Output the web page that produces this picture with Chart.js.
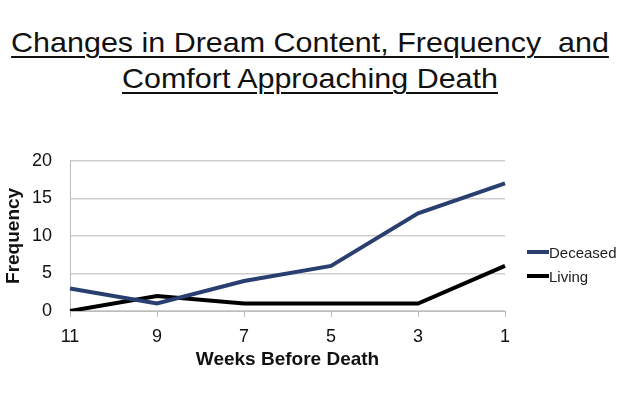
<!DOCTYPE html>
<html>
<head>
<meta charset="utf-8">
<script src="https://cdn.jsdelivr.net/npm/chart.js@4"></script>
<style>
  html, body { margin: 0; padding: 0; background: #fff; }
  body { width: 620px; height: 395px; position: relative; overflow: hidden; font-family: "Liberation Sans", Arial, sans-serif; }
  #title { position: absolute; left: 0; top: 25px; width: 620px; text-align: center; font-size: 28px; line-height: 36px; color: #111; white-space: pre; }
  #title div { transform: scaleX(1.088); }
  #title span { text-decoration: underline; text-decoration-thickness: 2px; text-underline-offset: 4px; }
  #wrap { position: absolute; left: 0; top: 132px; width: 620px; height: 263px; }
  #legend { position: absolute; left: 527px; top: 240px; font-size: 15px; color: #222; }
  .item { height: 24px; display: flex; align-items: center; }
  .swatch { width: 22px; height: 4px; margin-right: 0; }
</style>
</head>
<body>
<div id="title"><div><span>Changes in Dream Content, Frequency  and</span></div><div><span>Comfort Approaching Death</span></div></div>
<div id="wrap"><canvas id="chart"></canvas></div>
<div id="legend"></div>
<script>
// data
const weeks = ['11', '9', '7', '5', '3', '1'];
const deceased = [3, 1, 4, 6, 13, 17];
const living = [0, 2, 1, 1, 1, 6];
const seriesNames = ['Deceased', 'Living'];
const seriesColors = ['#283f6f', '#000000'];

// legend
let legend = document.getElementById('legend');
seriesNames.forEach((name, i) => {
    let item = document.createElement('div');
    item.className = 'item';
    item.innerHTML = `<div class="swatch" style="background:${seriesColors[i]}"></div><span>${name}</span>`;
    legend.appendChild(item);
});

new Chart(document.getElementById('chart').getContext('2d'), {
    type: 'line',
    data: {
        labels: weeks,
        datasets: [
            { label: seriesNames[0], data: deceased, borderColor: seriesColors[0], borderWidth: 4, pointRadius: 0, tension: 0 },
            { label: seriesNames[1], data: living, borderColor: seriesColors[1], borderWidth: 4, pointRadius: 0, tension: 0 }
        ]
    },
    options: {
        responsive: true,
        maintainAspectRatio: false,
        animation: false,
        layout: { padding: { top: 13, right: 115, left: 0, bottom: 0 } },
        plugins: { legend: { display: false }, tooltip: { enabled: false } },
        scales: {
            x: {
                grid: { drawOnChartArea: false, drawTicks: true, tickLength: 6, color: '#bdbdbd' },
                border: { color: '#bdbdbd' },
                ticks: { padding: 9, color: '#111', font: { family: 'Liberation Sans', size: 18 }, maxRotation: 0 },
                title: { display: true, text: 'Weeks Before Death', color: '#111', font: { family: 'Liberation Sans', size: 19, weight: 'bold' }, padding: { top: 0, bottom: 24 } },
                afterFit: s => { s.height = 84; }
            },
            y: {
                min: 0, max: 20,
                ticks: { stepSize: 5, padding: 18, color: '#111', font: { family: 'Liberation Sans', size: 18 } },
                grid: { drawTicks: false, color: '#cfcfcf', lineWidth: 1.5 },
                border: { color: '#bdbdbd' },
                title: { display: true, text: 'Frequency', color: '#111', font: { family: 'Liberation Sans', size: 19, weight: 'bold' }, padding: { top: 2, bottom: 0 } },
                afterFit: s => { s.width = 70; }
            }
        }
    }
});
</script>
</body>
</html>
